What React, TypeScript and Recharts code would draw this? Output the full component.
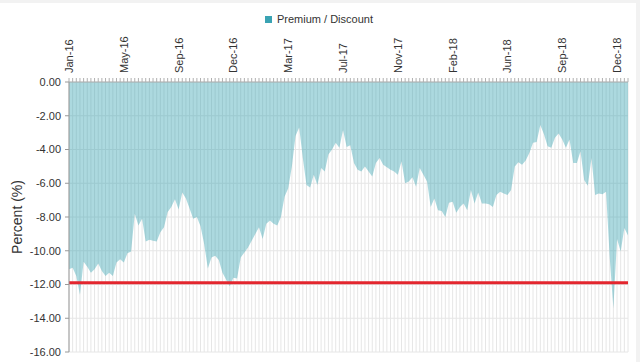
import React from 'react';
import { AreaChart, Area, XAxis, YAxis, CartesianGrid, ReferenceLine } from 'recharts';

const seriesName = 'Premium / Discount';

const premiumDiscount: number[] = [
  -11.1, -11.0, -11.5, -12.6, -10.65, -10.95, -11.3, -11.1, -10.75, -11.2,
  -11.5, -11.3, -11.5, -10.7, -10.5, -10.7, -10.15, -10.05, -7.8, -8.5,
  -8.1, -9.45, -9.35, -9.4, -9.45, -8.9, -8.6, -7.7, -7.4, -6.95,
  -7.55, -6.55, -6.9, -7.5, -8.1, -8.0, -8.55, -9.6, -11.05, -10.4,
  -10.3, -10.55, -11.3, -11.7, -12.1, -11.6, -11.65, -10.4, -10.1, -9.8,
  -9.4, -9.0, -8.6, -9.3, -8.4, -8.2, -8.4, -8.5, -8.0, -6.8,
  -6.3, -5.0, -3.2, -2.7, -4.5, -6.1, -6.25, -5.5, -6.1, -5.1,
  -5.3, -4.3, -4.0, -3.6, -3.9, -2.85, -3.85, -3.75, -4.8, -5.2,
  -5.3, -5.0, -5.3, -5.6, -4.8, -4.5, -4.9, -5.05, -5.2, -5.3,
  -5.5, -4.7, -6.0, -5.9, -5.65, -6.2, -5.1, -5.5, -5.9, -7.4,
  -6.9, -7.6, -7.65, -8.0, -7.15, -7.1, -7.75, -7.4, -7.2, -7.6,
  -6.4, -7.2, -6.55, -7.2, -7.2, -7.25, -7.4, -6.7, -6.5, -6.6,
  -6.7, -6.4, -5.0, -4.75, -4.9, -4.65, -4.2, -3.6, -3.55, -2.55,
  -3.1, -3.8, -3.9, -3.3, -3.05, -3.4, -3.9, -3.4, -4.8, -4.8,
  -4.1, -5.8, -6.15, -4.5, -6.7, -6.6, -6.65, -6.5, -10.4, -13.4,
  -9.3, -10.05, -8.65, -9.1,
];

const tickLabels: string[] = [
  'Jan-16', 'May-16', 'Sep-16', 'Dec-16', 'Mar-17', 'Jul-17',
  'Nov-17', 'Feb-18', 'Jun-18', 'Sep-18', 'Dec-18',
];
const TICK_STEP = 15;

const yTicks: number[] = [0, -2, -4, -6, -8, -10, -12, -14, -16];
const thresholdLine = -11.9;

const data = premiumDiscount.map((v, i) => ({ i, v }));

const FONT = '"Liberation Sans", Arial, sans-serif';
const TEAL = '#2f9fb0';

const TopTick = (props: any) => {
  const { x, y, payload } = props;
  const idx = Number(payload.value);
  if (idx % TICK_STEP !== 0) return null;
  const label = tickLabels[idx / TICK_STEP];
  if (!label) return null;
  return (
    <text
      x={x}
      y={y}
      transform={`rotate(-90, ${x}, ${y})`}
      textAnchor="start"
      dominantBaseline="central"
      fontSize={11}
      fontFamily={FONT}
      fill="#333"
    >
      {label}
    </text>
  );
};

const YLabel = (props: any) => {
  const vb = props.viewBox || {};
  const cx = (vb.x ?? 0) + 17;
  const cy = (vb.y ?? 0) + (vb.height ?? 0) / 2;
  return (
    <text
      x={cx}
      y={cy}
      transform={`rotate(-90, ${cx}, ${cy})`}
      textAnchor="middle"
      dominantBaseline="central"
      fontSize={14}
      fontFamily={FONT}
      fill="#333"
    >
      Percent (%)
    </text>
  );
};

export default function App() {
  return (
    <div
      style={{
        position: 'absolute',
        top: 0,
        left: 0,
        width: 640,
        height: 362,
        background: '#ffffff',
        overflow: 'hidden',
        fontFamily: FONT,
      }}
    >
      <div style={{ position: 'absolute', top: 0, left: 0, width: 640, height: 3, background: '#f2f2f2' }} />
      <div style={{ position: 'absolute', top: 0, left: 636, width: 4, height: 362, background: '#f2f2f2' }} />
      <div
        style={{
          position: 'absolute',
          top: 13,
          left: 265,
          display: 'flex',
          alignItems: 'center',
          fontSize: 11,
          color: '#333',
          whiteSpace: 'nowrap',
        }}
      >
        <span style={{ display: 'inline-block', width: 7, height: 7, background: '#3aa3b3', marginRight: 5 }} />
        <span>{seriesName}</span>
      </div>
      <AreaChart
        width={640}
        height={362}
        data={data}
        margin={{ top: 40, right: 12, bottom: 10, left: 0 }}
        style={{ position: 'absolute', top: 0, left: 0 }}
      >
        <CartesianGrid stroke="#e6e6e6" strokeWidth={1} />
        <XAxis
          dataKey="i"
          type="category"
          orientation="top"
          height={42}
          interval={0}
          tick={<TopTick />}
          tickSize={4}
          tickMargin={5}
          axisLine={{ stroke: '#b0b0b0' }}
          tickLine={{ stroke: '#b0b0b0' }}
        />
        <YAxis
          type="number"
          domain={[-16, 0]}
          ticks={yTicks}
          interval={0}
          width={69}
          tickSize={4}
          tickMargin={4}
          tickFormatter={(v: number) => v.toFixed(2)}
          tick={{ fontSize: 11, fontFamily: FONT, fill: '#333' }}
          axisLine={{ stroke: '#999' }}
          tickLine={{ stroke: '#999' }}
          label={<YLabel />}
        />
        <Area
          type="linear"
          dataKey="v"
          name={seriesName}
          baseValue={0}
          stroke="none"
          fill={TEAL}
          fillOpacity={0.4}
          isAnimationActive={false}
          dot={false}
          activeDot={false}
        />
        <ReferenceLine y={thresholdLine} stroke="#e3262e" strokeWidth={3} ifOverflow="extendDomain" />
      </AreaChart>
    </div>
  );
}
